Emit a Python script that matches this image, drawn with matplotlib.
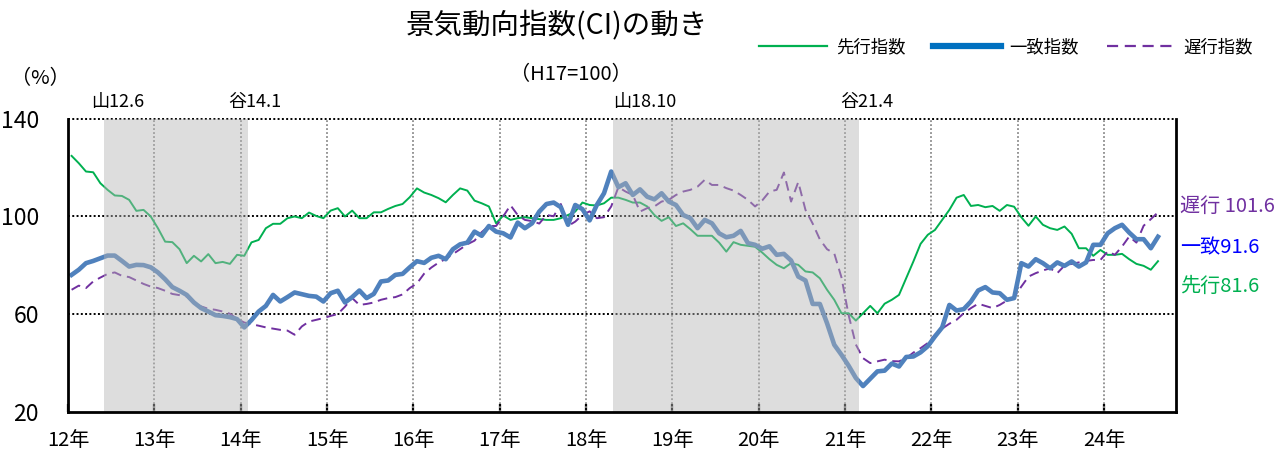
import numpy as np
import matplotlib
matplotlib.use("Agg")
import matplotlib.pyplot as plt
from matplotlib.lines import Line2D

plt.rcParams['font.family'] = ['Noto Sans CJK JP', 'DejaVu Sans']

# ---- data (monthly, Jan 2012 .. Aug 2024) ----
leading = [124.7, 121.7, 118.3, 118.0, 113.5, 110.8, 108.5, 108.3, 106.7, 102.2, 102.6, 99.9,
           95.1, 89.6, 89.4, 86.5, 80.8, 83.8, 81.5, 84.5, 80.8, 81.3, 80.5, 84.2,
           83.8, 89.3, 90.3, 95.1, 96.9, 96.9, 99.2, 99.9, 99.2, 101.5, 100.1, 99.2,
           102.3, 103.3, 99.9, 102.3, 99.2, 99.2, 101.6, 101.6, 103.0, 104.2, 105.0, 107.8,
           111.4, 109.7, 108.7, 107.4, 105.7, 108.7, 111.4, 110.5, 106.4, 105.3, 104.0, 97.1,
           100.3, 98.5, 99.2, 99.6, 99.2, 98.8, 98.5, 98.5, 99.2, 100.5, 101.9, 105.6,
           104.6, 104.4, 105.3, 107.6, 107.6, 106.7, 105.6, 105.6, 104.0, 100.5, 98.1, 99.6,
           96.0, 97.1, 94.7, 92.0, 92.0, 92.0, 89.2, 85.5, 89.4, 88.3, 87.9, 87.5,
           85.1, 82.4, 80.1, 78.7, 80.8, 80.1, 77.4, 77.0, 74.6, 69.9, 65.8, 60.3,
           60.3, 57.3, 60.3, 63.3, 60.3, 64.2, 65.8, 67.8, 74.7, 81.5, 88.7, 92.4,
           94.4, 98.5, 102.6, 107.6, 108.7, 104.2, 104.6, 103.7, 104.2, 102.2, 104.6, 103.9,
           99.6, 96.1, 99.9, 96.5, 95.1, 94.4, 95.8, 92.8, 86.9, 86.9, 83.8, 86.2,
           84.2, 84.2, 84.6, 82.4, 80.5, 79.7, 78.1, 81.6]

coincident = [76.0, 78.1, 80.8, 81.7, 82.8, 83.9, 83.9, 81.7, 79.4, 80.1, 80.0, 79.1,
              77.0, 74.2, 71.0, 69.5, 67.8, 64.7, 62.4, 61.0, 59.5, 59.2, 58.7, 57.9,
              54.5, 57.5, 61.0, 63.3, 67.8, 65.1, 66.9, 68.8, 68.1, 67.4, 67.1, 65.1,
              68.5, 69.5, 64.7, 66.9, 69.6, 66.5, 68.2, 73.3, 73.7, 76.0, 76.4, 79.1,
              81.6, 80.9, 83.0, 83.8, 82.4, 86.5, 88.5, 89.2, 93.7, 92.0, 96.0, 93.7,
              93.0, 91.3, 97.4, 95.1, 97.1, 101.9, 105.0, 105.6, 103.7, 96.5, 104.6, 102.9,
              98.3, 104.6, 109.4, 118.3, 111.9, 113.5, 108.7, 111.0, 108.0, 106.9, 109.4, 106.0,
              104.6, 100.5, 99.2, 95.1, 98.5, 97.1, 93.0, 91.4, 92.0, 94.0, 89.0, 88.3,
              86.7, 87.7, 84.2, 84.6, 81.9, 75.3, 73.7, 64.1, 64.1, 56.2, 47.4, 43.3,
              38.8, 33.8, 30.5, 33.5, 36.5, 36.8, 39.7, 38.5, 42.4, 42.6, 44.3, 46.8,
              50.8, 54.5, 63.7, 61.4, 62.0, 65.1, 69.6, 71.0, 68.8, 68.5, 65.8, 66.5,
              80.8, 79.4, 82.4, 80.8, 78.7, 81.1, 79.7, 81.5, 79.4, 81.1, 88.3, 88.3,
              93.0, 95.1, 96.5, 93.3, 90.6, 90.6, 86.9, 91.6]

lagging = [69.9, 71.6, 70.6, 73.3, 74.9, 76.4, 77.0, 75.6, 75.1, 73.7, 72.3, 71.2,
           70.6, 69.5, 68.2, 67.7, 67.2, 64.4, 63.1, 62.1, 61.7, 61.0, 60.1, 58.0,
           56.5, 55.8, 55.2, 54.5, 54.0, 53.5, 53.2, 51.5, 54.9, 56.9, 57.6, 58.3,
           59.2, 60.0, 63.0, 66.5, 63.7, 64.1, 64.7, 65.8, 66.5, 66.9, 68.0, 70.6,
           72.5, 76.5, 79.0, 81.0, 82.5, 84.5, 86.5, 88.5, 90.0, 93.5, 96.0, 96.0,
           100.0, 104.5, 100.5, 98.5, 98.0, 97.0, 100.5, 100.0, 105.0, 96.0, 97.8, 100.5,
           102.0, 99.2, 99.6, 104.0, 111.9, 110.1, 108.7, 101.9, 103.3, 104.0, 106.0, 106.7,
           108.7, 110.1, 110.8, 112.1, 114.9, 112.8, 112.8, 111.5, 110.5, 108.7, 106.7, 104.0,
           106.5, 110.1, 110.8, 117.9, 106.0, 114.0, 102.6, 97.0, 90.5, 86.5, 84.8, 75.0,
           59.5, 47.5, 41.9, 39.9, 40.6, 41.3, 40.7, 40.6, 41.9, 44.2, 46.0, 48.1,
           51.5, 54.0, 56.0, 57.6, 60.3, 62.4, 64.2, 63.3, 62.4, 63.7, 65.5, 66.9,
           71.2, 75.3, 76.7, 77.8, 78.7, 76.7, 79.8, 80.5, 81.1, 81.7, 82.1, 82.1,
           85.6, 84.2, 87.6, 91.7, 89.2, 96.1, 98.8, 101.6]

year_labels = ['12年', '13年', '14年', '15年', '16年', '17年', '18年',
               '19年', '20年', '21年', '22年', '23年', '24年']
series_names = ['先行指数', '一致指数', '遅行指数']
end_labels = ['遅行 101.6', '一致91.6', '先行81.6']
recessions = [(5.0, 25.0), (75.8, 110.0)]
turn_labels = ['山12.6', '谷14.1', '山18.10', '谷21.4']

# ---- figure ----
W, H = 1288, 455
fig = plt.figure(figsize=(W / 100, H / 100), dpi=100)
L, R, T, B = 68, 1176, 118.5, 411.7
ax = fig.add_axes([L / W, 1 - B / H, (R - L) / W, (B - T) / H])

x = np.arange(len(coincident)) + 0.5

GREEN = '#00B050'
BLUE = '#4F81BD'
PURPLE = '#7030A0'

ax.plot(x, leading, color=GREEN, lw=1.4, zorder=3)
ax.plot(x, lagging, color=PURPLE, lw=1.4, dashes=(5, 3), zorder=3)
ax.plot(x, coincident, color=BLUE, lw=3.3, zorder=4, solid_joinstyle='round')

ax.set_xlim(0, 154)
ax.set_ylim(20, 140)

# gridlines
for yv in (60, 100, 140):
    ax.axhline(yv, color='black', lw=1.4, ls=(0, (1, 1.2)), zorder=2, clip_on=False)
for i in range(1, len(year_labels)):
    ax.axvline(12 * i, color='#8C8C8C', lw=1.3, ls=(0, (1, 1.2)), zorder=2)

# recession shading (drawn on top, semi-transparent)
for a, b in recessions:
    ax.axvspan(a, b, color='#B4B4B4', alpha=0.45, lw=0, zorder=5)

ax.set_xticks([12 * i for i in range(len(year_labels))])
ax.set_xticklabels(year_labels, fontsize=14.5)
ax.tick_params(axis='x', direction='in', length=6, width=1.6, pad=13)
ax.set_yticks([20, 60, 100, 140])
ax.set_yticklabels(['20', '60', '100', '140'], fontsize=16.5)
ax.tick_params(axis='y', length=0, pad=21)

ax.spines['top'].set_visible(False)
for s in ('left', 'bottom', 'right'):
    ax.spines[s].set_linewidth(2.0)
    ax.spines[s].set_zorder(6)

def fx(px):
    return px / W

def fy(py):
    return 1 - py / H

# title and annotations
fig.text(fx(557), fy(25), '景気動向指数(CI)の動き', fontsize=20.5, ha='center', va='center')
fig.text(fx(571), fy(75), '（H17=100）', fontsize=14.5, ha='center', va='center')
fig.text(fx(40), fy(79), '（%）', fontsize=14.5, ha='center', va='center')
for txt, cx in zip(turn_labels, [118, 255, 645, 867]):
    fig.text(fx(cx), fy(102), txt, fontsize=13, ha='center', va='center')

# end labels
for txt, col, yy in zip(end_labels, [PURPLE, '#0000FF', GREEN], [206, 248, 286]):
    fig.text(fx(1180), fy(yy), txt, fontsize=14.5, color=col, ha='left', va='center')

# legend
handles = [Line2D([], [], color=GREEN, lw=1.6),
           Line2D([], [], color='#0070C0', lw=4.5),
           Line2D([], [], color=PURPLE, lw=1.6, dashes=(5, 3))]
fig.legend(handles, series_names, loc='center', bbox_to_anchor=(fx(1006), fy(47)),
           ncol=3, frameon=False, fontsize=12.5, handlelength=3.9, handletextpad=0.5,
           columnspacing=1.6, borderpad=0, borderaxespad=0)

fig.savefig('out.png', dpi=100)
